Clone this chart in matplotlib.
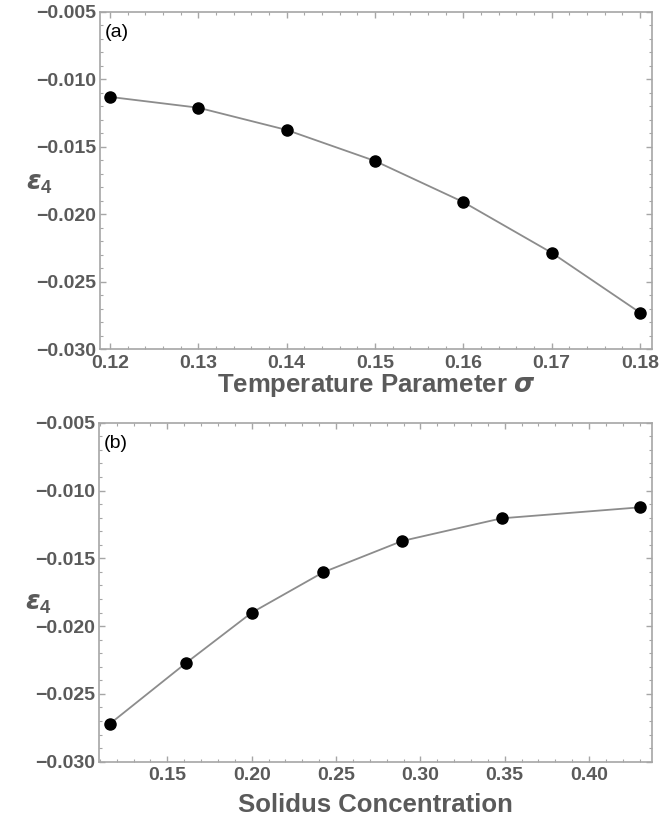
import matplotlib
matplotlib.use("Agg")
import matplotlib.pyplot as plt
from matplotlib.ticker import MultipleLocator, FuncFormatter

# data
sigma = [0.12, 0.13, 0.14, 0.15, 0.16, 0.17, 0.18]
eps_a = [-0.0113, -0.0121, -0.01375, -0.01605, -0.01910, -0.02286, -0.0273]

solidus = [0.116, 0.1613, 0.2000, 0.2424, 0.2892, 0.3481, 0.4300]
eps_b = [-0.0272, -0.0227, -0.01901, -0.01603, -0.01372, -0.01205, -0.01124]

plt.rcParams['font.family'] = ['Liberation Sans', 'DejaVu Sans']
plt.rcParams['mathtext.fontset'] = 'custom'
plt.rcParams['mathtext.rm'] = 'Liberation Sans'
plt.rcParams['mathtext.it'] = 'Liberation Sans:italic'
plt.rcParams['mathtext.bf'] = 'Liberation Sans:bold'

txt_col = "#5a5a5a"
frame_col = "#a6a6a6"

fig = plt.figure(figsize=(6.59, 8.21), dpi=100)
ax1 = fig.add_axes([0.1517, 0.5749, 0.8377, 0.4105])
ax2 = fig.add_axes([0.1502, 0.0722, 0.8392, 0.4129])


def fmt(nd):
    return FuncFormatter(lambda v, p: f"{v:.{nd}f}".replace('-', '\u2212'))


def style(ax, xmaj, xmin, ylab_y):
    for s in ax.spines.values():
        s.set_color(frame_col)
        s.set_linewidth(1.2)
    ax.set_ylim(-0.030, -0.005)
    ax.yaxis.set_major_locator(MultipleLocator(0.005))
    ax.yaxis.set_minor_locator(MultipleLocator(0.001))
    ax.yaxis.set_major_formatter(fmt(3))
    ax.xaxis.set_major_locator(MultipleLocator(xmaj))
    ax.xaxis.set_minor_locator(MultipleLocator(xmin))
    ax.xaxis.set_major_formatter(fmt(2))
    ax.tick_params(which='both', direction='in', color=frame_col,
                   top=True, right=True)
    ax.tick_params(which='major', length=4, width=1)
    ax.tick_params(which='minor', length=2, width=0.8)
    ax.tick_params(labelsize=14, labelcolor=txt_col, pad=3)
    ax.tick_params(axis='x', labeltop=False, pad=4)
    ax.tick_params(axis='y', labelright=False)
    for lab in ax.get_xticklabels() + ax.get_yticklabels():
        lab.set_fontweight('bold')
    ax.set_ylabel(r'$\boldsymbol{\epsilon}_{\mathbf{4}}$', rotation=0,
                  fontsize=19, color=txt_col, ha='center', va='center')
    ax.yaxis.set_label_coords(-0.109, ylab_y)


# (a)
ax1.plot(sigma, eps_a, color="#8c8c8c", linewidth=1.3, zorder=2)
ax1.plot(sigma, eps_a, 'o', color='black', markersize=8, zorder=3)
ax1.set_xlim(0.11887, 0.18136)
style(ax1, 0.01, 0.002, 0.49)
ax1.set_xlabel(r'Temperature Parameter $\boldsymbol{\sigma}$',
               fontsize=18.5, fontweight='bold', color=txt_col, labelpad=0)
ax1.text(0.008, 0.965, '(a)', transform=ax1.transAxes, fontsize=14,
         va='top', ha='left', color='black')

# (b)
ax2.plot(solidus, eps_b, color="#8c8c8c", linewidth=1.3, zorder=2)
ax2.plot(solidus, eps_b, 'o', color='black', markersize=8, zorder=3)
ax2.set_xlim(0.1095, 0.4373)
style(ax2, 0.05, 0.01, 0.465)
ax2.set_xlabel('Solidus Concentration', fontsize=18.5, fontweight='bold',
               color=txt_col, labelpad=6)
ax2.text(0.008, 0.965, '(b)', transform=ax2.transAxes, fontsize=14,
         va='top', ha='left', color='black')

fig.savefig("out.png", dpi=100)
